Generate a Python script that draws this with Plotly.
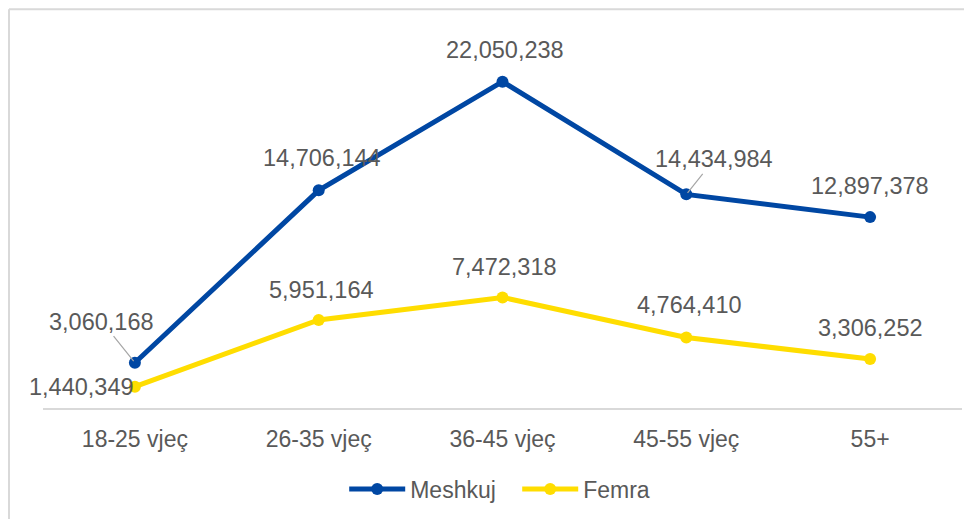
import plotly.graph_objects as go

categories = ["18-25 vjeç", "26-35 vjeç", "36-45 vjeç", "45-55 vjeç", "55+"]
meshkuj = [3060168, 14706144, 22050238, 14434984, 12897378]
femra = [1440349, 5951164, 7472318, 4764410, 3306252]

BLUE = "#0047A3"
YELLOW = "#FFDD00"
TXT = "#595959"
FONT = "Liberation Sans, Arial, sans-serif"

fig = go.Figure()
fig.add_trace(go.Scatter(x=categories, y=meshkuj, name="Meshkuj", mode="lines+markers",
                         line=dict(color=BLUE, width=5), marker=dict(size=12, color=BLUE)))
fig.add_trace(go.Scatter(x=categories, y=femra, name="Femra", mode="lines+markers",
                         line=dict(color=YELLOW, width=5), marker=dict(size=12, color=YELLOW)))

def fmt(v):
    return f"{v:,}"

# label placement (pixel offsets) per point
m_off = [None, (3, 32), (2, 32), None, (0, 31)]
f_off = [(-53, 0), (3, 30), (2, 30), (3, 32), (0, 31)]
annotations = []
for i, c in enumerate(categories):
    if m_off[i] is None:
        continue
    annotations.append(dict(x=c, y=meshkuj[i], text=fmt(meshkuj[i]), showarrow=False,
                            xshift=m_off[i][0], yshift=m_off[i][1]))
for i, c in enumerate(categories):
    annotations.append(dict(x=c, y=femra[i], text=fmt(femra[i]), showarrow=False,
                            xshift=f_off[i][0], yshift=f_off[i][1]))
# leader-line labels
for i, (ax, ay) in [(0, (-33, -41)), (3, (28, -35))]:
    annotations.append(dict(x=categories[i], y=meshkuj[i], text=fmt(meshkuj[i]), showarrow=True,
                            arrowhead=0, arrowwidth=1.2, arrowcolor="#A6A6A6", ax=ax, ay=ay,
                            standoff=2))
for a in annotations:
    a["font"] = dict(family=FONT, size=23.5, color=TXT)

fig.update_layout(
    width=972, height=519,
    margin=dict(l=35, r=18, t=30, b=119),
    paper_bgcolor="white", plot_bgcolor="white",
    font=dict(family=FONT, size=23, color=TXT),
    showlegend=True,
    legend=dict(orientation="h", x=0.516, xanchor="center", y=-0.219, yanchor="middle",
                font=dict(family=FONT, size=23, color=TXT), itemwidth=56,
                entrywidth=102),
    annotations=annotations,
    xaxis=dict(showgrid=False, showline=True, linecolor="#D9D9D9", linewidth=2,
               ticks="", range=[-0.5, 4.5], tickfont=dict(family=FONT, size=23, color=TXT),
               ticklabelstandoff=9, fixedrange=True),
    yaxis=dict(visible=False, range=[0, 25000000], fixedrange=True),
    shapes=[
        dict(type="line", xref="paper", yref="paper", x0=-0.037, x1=-0.037, y0=1.078, y1=-0.35,
             line=dict(color="#D9D9D9", width=2)),
        dict(type="line", xref="paper", yref="paper", x0=-0.037, x1=1.03, y0=1.078, y1=1.078,
             line=dict(color="#D9D9D9", width=2)),
    ],
)

fig.write_html("out.html")
